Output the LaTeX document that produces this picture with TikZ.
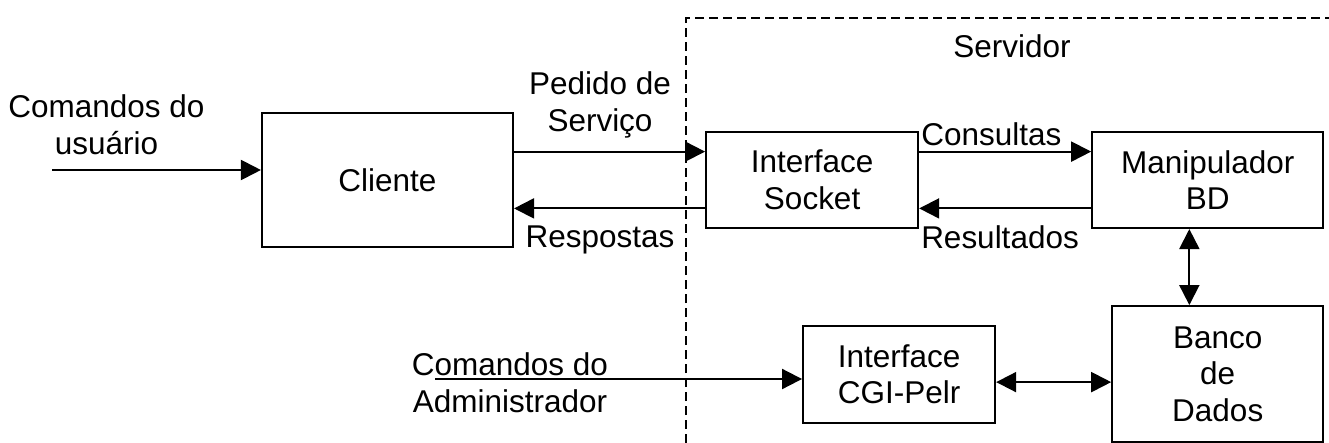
\documentclass[tikz,border=0pt]{standalone}
\usepackage{fontspec}
\setmainfont{Liberation Sans}
\usetikzlibrary{positioning, arrows.meta}

\begin{document}
\begin{tikzpicture}[
  x=0.25mm, y=-0.25mm,
  font=\fontsize{22.4}{26}\selectfont,
  every node/.style={align=center, inner sep=0pt},
  box/.style={draw, rectangle, line width=1.5pt},
  lbl/.style={inner sep=0pt},
  arr/.style={-{Triangle[length=5mm, width=5mm]}, line width=1.4pt},
  arrs/.style={{Triangle[length=5mm, width=5mm]}-{Triangle[length=5mm, width=5mm]}, line width=1.4pt},
  srv/.style={dash pattern=on 2.25mm off 1.25mm, line width=0.9pt}
]
\useasboundingbox (0,0) rectangle (1329,443);
\node[box, minimum width=62.75mm, minimum height=33.5mm] (cliente) at (387.5,180) {Cliente};
\node[box, minimum width=53mm, minimum height=24mm, right=47.75mm of cliente] (socket) {Interface\\Socket};
\node[box, minimum width=57.75mm, minimum height=24mm, right=43mm of socket] (manip) {Manipulador\\BD};
\node[box, minimum width=52.75mm, minimum height=34mm, below=19mm of manip.south east, anchor=north east] (banco) {Banco\\de\\Dados};
\node[box, minimum width=48mm, minimum height=24.25mm, left=28.75mm of banco] (cgi) {Interface\\CGI-Pelr};

% free ends and the server area
\coordinate (usrin) at (52,170);
\coordinate (admin) at (435,379);
\coordinate (srvbl) at (686,443);
\coordinate (srvtr) at (1329,18);
\draw[srv] (srvbl) |- (srvtr);
\node[lbl, anchor=north] (servidor) at (1012,34.5) {Servidor};
\node[lbl, anchor=north] (usrlbl) at (106.5,94.4) {Comandos do\\usuário};
\node[lbl, anchor=north] (admlbl) at (510,352.4) {Comandos do\\Administrador};

\draw[arr] (usrin) -- (usrin -| cliente.west);
\draw[arr] ([yshift=7.1mm]cliente.east) -- node[pos=0.45, above=3.1mm, lbl] {Pedido de\\Serviço} ([yshift=7.1mm]socket.west);
\draw[arr] ([yshift=-7.1mm]socket.west) -- node[pos=0.55, below=4.1mm, lbl] {Respostas} ([yshift=-7.1mm]cliente.east);
\draw[arr] ([yshift=7.1mm]socket.east) -- node[pos=0.42, above=1.25mm, lbl] {Consultas} ([yshift=7.1mm]manip.west);
\draw[arr] ([yshift=-7.1mm]manip.west) -- node[pos=0.53, below=4mm, lbl] {Resultados} ([yshift=-7.1mm]socket.east);
\draw[arrs] ([xshift=-4.6mm]manip.south) -- ([xshift=-4.6mm]manip.south |- banco.north);
\draw[arrs] ([yshift=-2mm]cgi.east) -- ([yshift=-2mm]cgi.east -| banco.west);
\draw[arr] (admin) -- (admin -| cgi.west);
\end{tikzpicture}
\end{document}
